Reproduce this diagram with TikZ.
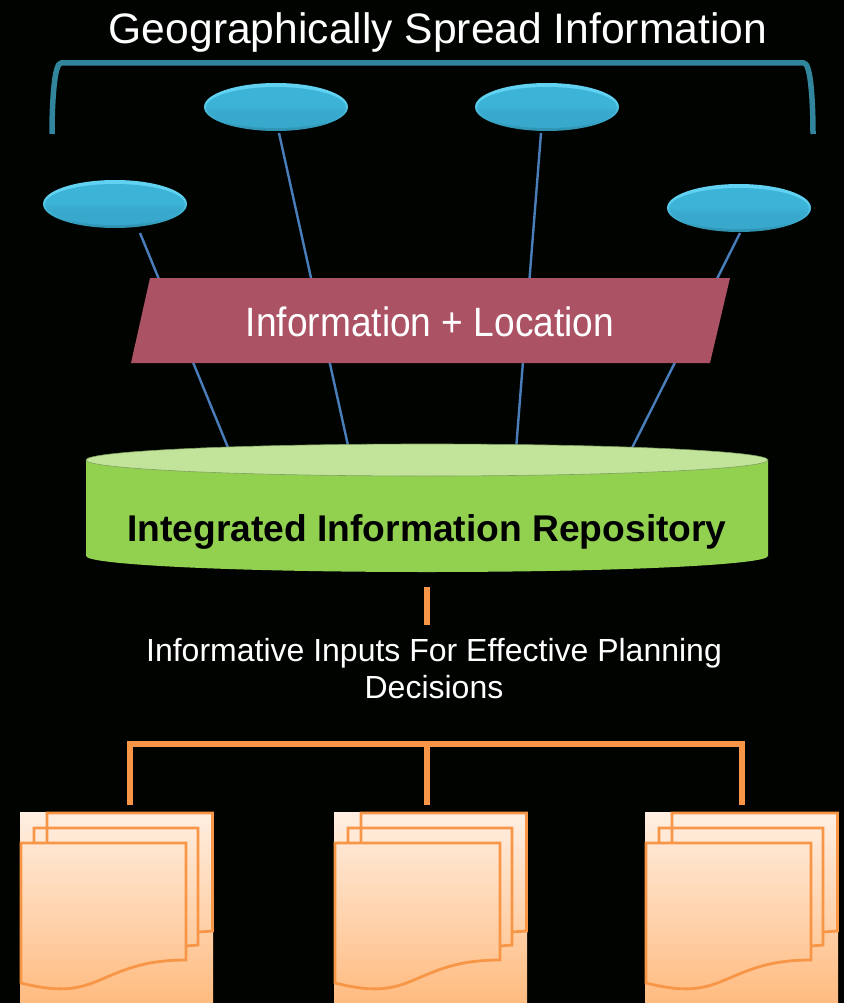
\documentclass[tikz,border=0pt]{standalone}
\usepackage{fontspec}
\setmainfont{Liberation Sans}
\usetikzlibrary{shapes.geometric}
\definecolor{bgc}{HTML}{000300}
\definecolor{teal1}{HTML}{31859C}
\definecolor{link}{HTML}{4A7EBB}
\definecolor{plum}{HTML}{AB5264}
\definecolor{grn}{HTML}{92D050}
\definecolor{grnlt}{HTML}{C2E49A}
\definecolor{grnedge}{HTML}{7FA060}
\definecolor{org}{HTML}{F79646}
\definecolor{dtop}{HTML}{FFEFE2}
\definecolor{dbot}{HTML}{FFBB80}
\definecolor{rimtop}{HTML}{62D2F2}
\definecolor{rimbot}{HTML}{2E8FAD}
\definecolor{diskmid}{HTML}{3CB4D8}
\definecolor{disklow}{HTML}{38A9CC}
\pgfdeclareverticalshading{diskshade}{100bp}{
 color(0bp)=(rimbot);
 color(25bp)=(rimbot);
 color(36bp)=(disklow);
 color(60bp)=(rimtop);
 color(75bp)=(rimtop);
 color(100bp)=(rimtop)}
\pgfdeclareverticalshading{diskinner}{100bp}{
 color(0bp)=(disklow);
 color(25bp)=(disklow);
 color(44bp)=(disklow);
 color(52bp)=(diskmid);
 color(75bp)=(diskmid);
 color(100bp)=(diskmid)}
\tikzset{
 every node/.style={inner sep=0pt,outer sep=0pt,text=white},
 disk/.style={ellipse,minimum width=144pt,minimum height=48pt,shading=diskshade},
 linkline/.style={link,line width=2.4pt},
 tealline/.style={teal1,line width=5.5pt},
 orgstem/.style={org,line width=6.8pt},
 orgbar/.style={org,line width=5.5pt},
 pageline/.style={org,line width=2.8pt,line join=miter},
 docback/.style={minimum width=193pt,minimum height=191pt,top color=dtop,bottom color=dbot},
}
\begin{document}
\begin{tikzpicture}[x=1pt,y=-1pt]
\useasboundingbox[fill=bgc] (0,0) rectangle (844,1003);
% nodes
\node[disk] (e1) at (115,204) {};
\node[disk] (e2) at (276,107) {};
\node[disk] (e3) at (547,107) {};
\node[disk] (e4) at (739,208) {};
\foreach \e in {e1,e2,e3,e4}
 \shade[shading=diskinner] ([yshift=-0.5pt]\e.center) ellipse[x radius=70pt,y radius=20.5pt];
\node[anchor=center,minimum width=682pt,minimum height=128pt] (repo) at (427,508) {};
% connectors behind the shapes
\draw[linkline] ([xshift=25pt,yshift=-5pt]e1.south) -- ([xshift=-198pt,yshift=-6pt]repo.north);
\draw[linkline] ([xshift=3pt,yshift=-2pt]e2.south) -- ([xshift=-78pt,yshift=-6pt]repo.north);
\draw[linkline] ([xshift=-6pt,yshift=-2pt]e3.south) -- ([xshift=89pt,yshift=-6pt]repo.north);
\draw[linkline] ([xshift=1pt,yshift=-1pt]e4.south) -- ([xshift=204pt,yshift=-6pt]repo.north);
% bracket
\coordinate (tl) at (52,134);
\coordinate (tr) at (813,134);
\draw[tealline,line join=round] (tl) .. controls (52,105) and (54,63) .. (61,63) -- (804,63) .. controls (811,63) and (813,105) .. (tr);
\node[font=\fontsize{42.6}{42.6}\selectfont] (title) at (438,32) {Geographically Spread Information};
% parallelogram
\path[fill=plum] (150,278) -- (730,278) -- (710,363) -- (131,363) -- cycle;
\node[font=\fontsize{41}{41}\selectfont,xscale=0.905] (info) at (430,322) {Information + Location};
% cylinder
\path[fill=grn,draw=none] (86,460) -- (86,556) arc[start angle=180,end angle=360,x radius=341pt,y radius=16pt] -- (768,460) -- cycle;
\path[fill=grnlt,draw=grnedge,line width=0.6pt] (427,460) ellipse[x radius=341pt,y radius=16pt];
\node[font=\fontsize{37.2}{37.2}\selectfont\bfseries,text=black] (repolabel) at (427,532) {Integrated Information Repository};
% stub and text
\coordinate (stubtop) at (427,587);
\coordinate (stubbot) at (427,625);
\draw[orgstem] (stubtop) -- (stubbot);
\node[font=\fontsize{32}{37}\selectfont,align=center] (inputs) at (434,669) {Informative Inputs For Effective Planning\\Decisions};
% orange bracket
\coordinate (ba) at (130,744);
\coordinate (bb) at (427,744);
\coordinate (bc) at (742,744);
\coordinate (sa) at (130,805);
\coordinate (sb) at (427,805);
\coordinate (sc) at (742,805);
\draw[orgbar] (127,744) -- (745,744);
\draw[orgstem] (ba) -- (sa);
\draw[orgstem] (bb) -- (sb);
\draw[orgstem] (bc) -- (sc);
% documents
\foreach \n/\dx in {1/0,2/314,3/625}{
 \begin{scope}[xshift=\dx pt]
 \node[docback,anchor=north west] (doc\n) at (20,812) {};
 \draw[pageline] (47,843) -- (47,813) -- (212.5,813) -- (212.5,931) -- (198,932);
 \draw[pageline] (34,843) -- (34,828) -- (198,828) -- (198,945) -- (186,946);
 \draw[pageline] (21,843) -- (186,843) -- (186,960) .. controls (140,960) and (120,972) .. (95,982) .. controls (70,992) and (50,990) .. (21,983) -- cycle;
 \end{scope}
}
\end{tikzpicture}
\end{document}
